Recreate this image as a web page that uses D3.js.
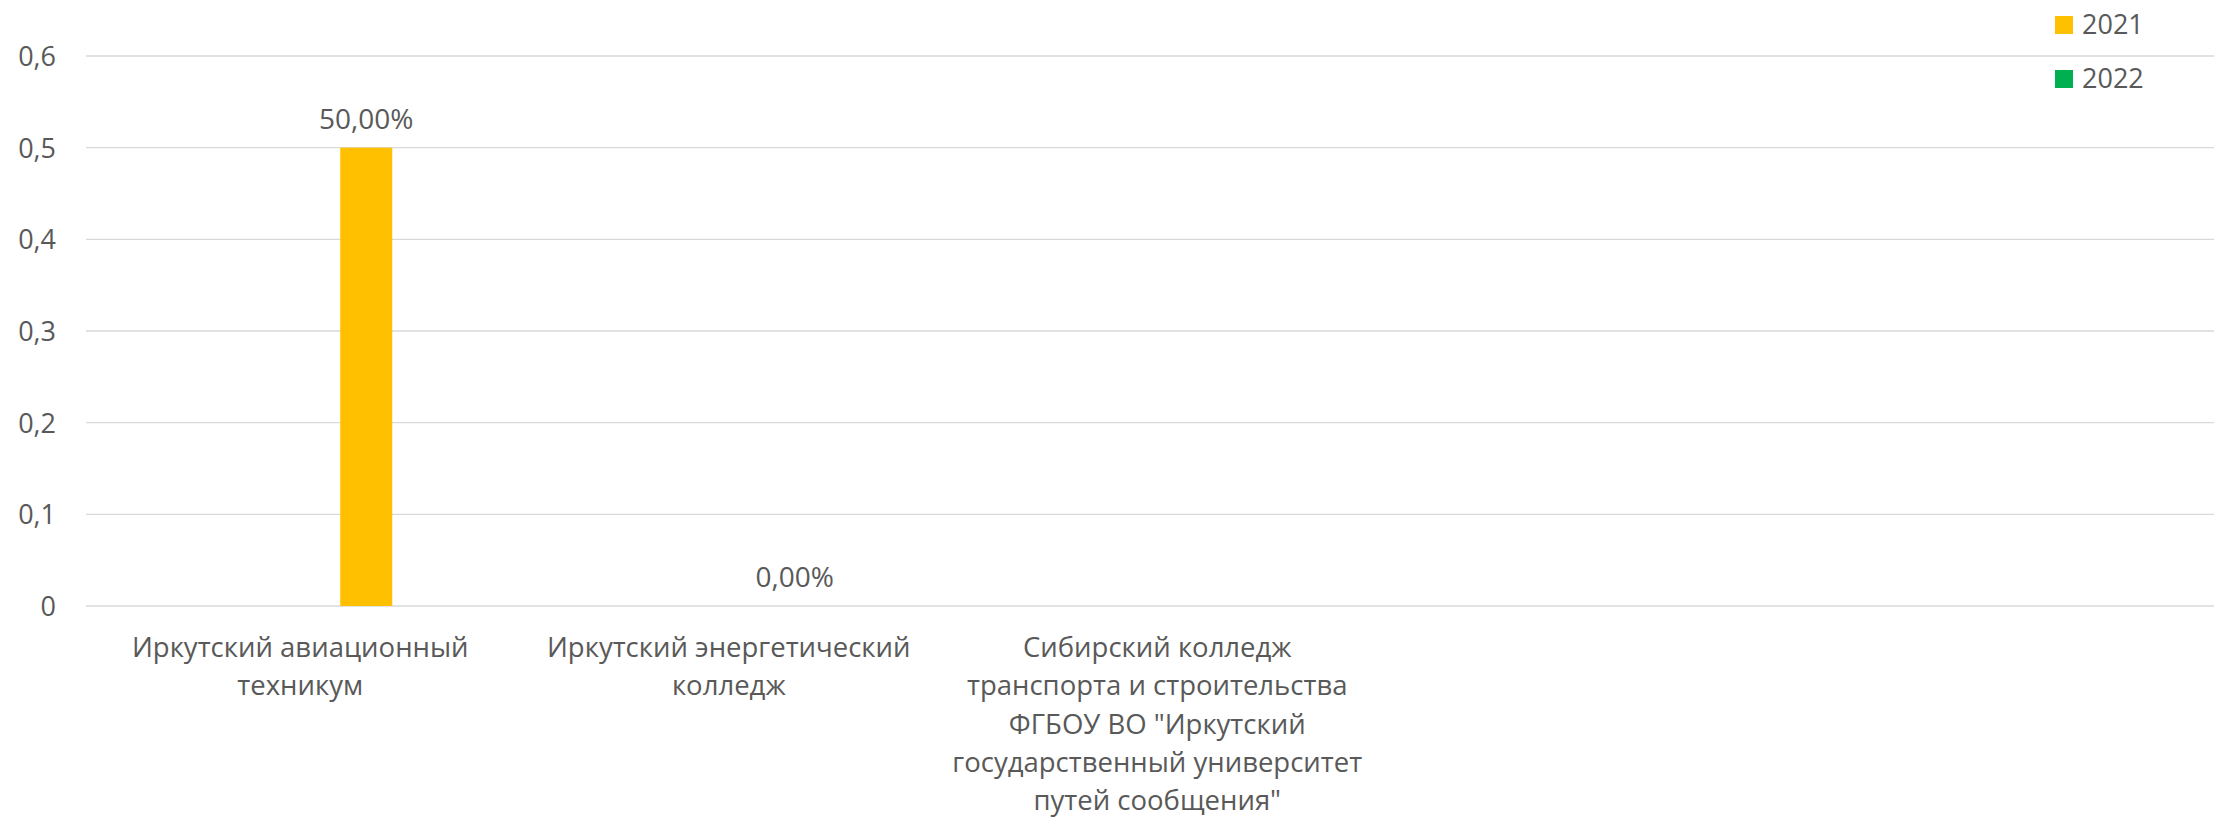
<!DOCTYPE html>
<html><head><meta charset="utf-8">
<script src="https://cdn.jsdelivr.net/npm/d3@7"></script>
<style>
html,body{margin:0;padding:0;background:#fff;overflow:hidden;}
svg text{font-family:"Open Sans",sans-serif;fill:#595959;}
</style></head>
<body>
<svg id="chart" width="2214" height="817"></svg>
<script>
// ---- data ----
// "\n" marks where the reference wraps a category label
const categories = [
  "Иркутский авиационный\nтехникум",
  "Иркутский энергетический\nколледж",
  "Сибирский колледж\nтранспорта и строительства\nФГБОУ ВО \"Иркутский\nгосударственный университет\nпутей сообщения\"",
  "",
  ""
];
const seriesNames = ["2021", "2022"];
const values2021 = [0.5, 0, null, null, null];
const values2022 = [null, null, null, null, null];
const yTicks = [0, 0.1, 0.2, 0.3, 0.4, 0.5, 0.6];
const yTickLabels = ["0", "0,1", "0,2", "0,3", "0,4", "0,5", "0,6"];
const colors = ["#FFC000", "#00B050"];

// ---- layout ----
const svg = d3.select("#chart");
const W = 2214;
const plotLeft = 86, catStep = 428.5;
const y = d3.scaleLinear().domain([0, 0.6]).range([606, 56]);
const x0 = d3.scaleBand().domain(d3.range(categories.length))
  .range([plotLeft, plotLeft + catStep * categories.length]).padding(0);
const x1 = d3.scaleBand().domain(seriesNames)
  .range([catStep / 2 + 40, catStep / 2 + 40 + 118]).paddingInner(14 / 66).paddingOuter(0);

// gridlines
svg.append("g").selectAll("line").data(yTicks).join("line")
  .attr("x1", plotLeft).attr("x2", W)
  .attr("y1", d => y(d)).attr("y2", d => y(d))
  .attr("stroke", "#d9d9d9").attr("stroke-width", 1.4);

// y axis labels
const yAxis = d3.axisLeft(y).tickValues(yTicks)
  .tickFormat((d, i) => yTickLabels[i]).tickSize(0).tickPadding(0);
const gy = svg.append("g").attr("transform", "translate(56,0)").call(yAxis);
gy.select(".domain").remove();
gy.selectAll("text").attr("font-size", 27).attr("font-family", "Open Sans").attr("fill", "#595959").attr("dy", "0.35em");

// bars
const allSeries = [values2021, values2022];
allSeries.forEach((vals, si) => {
  const data = vals.map((v, i) => ({ i, v })).filter(d => d.v !== null);
  svg.append("g").selectAll("rect").data(data).join("rect")
    .attr("x", d => x0(d.i) + x1(seriesNames[si]))
    .attr("width", x1.bandwidth())
    .attr("y", d => y(d.v))
    .attr("height", d => y(0) - y(d.v))
    .attr("fill", colors[si]);
  svg.append("g").selectAll("text").data(data).join("text")
    .attr("x", d => x0(d.i) + x1(seriesNames[si]) + x1.bandwidth() / 2)
    .attr("y", d => y(d.v) - 19)
    .attr("text-anchor", "middle")
    .attr("font-size", 28)
    .text(d => d3.format(".2f")(d.v * 100).replace(".", ",") + "%");
});

// category labels
const gx = svg.append("g");
categories.forEach((c, i) => {
  const cx = x0(i) + catStep / 2;
  const t = gx.append("text").attr("text-anchor", "middle").attr("font-size", 27.5)
    .attr("x", cx).attr("y", 657);
  c.split("\n").forEach((ln, k) => {
    t.append("tspan").attr("x", cx).attr("dy", k === 0 ? 0 : 38.3).text(ln);
  });
});

// legend
const lg = svg.append("g");
seriesNames.forEach((s, i) => {
  lg.append("rect").attr("x", 2055).attr("y", 16 + i * 54).attr("width", 18).attr("height", 18).attr("fill", colors[i]);
  lg.append("text").attr("x", 2082).attr("y", 34 + i * 54).attr("font-size", 27).text(s);
});
</script>
</body></html>
